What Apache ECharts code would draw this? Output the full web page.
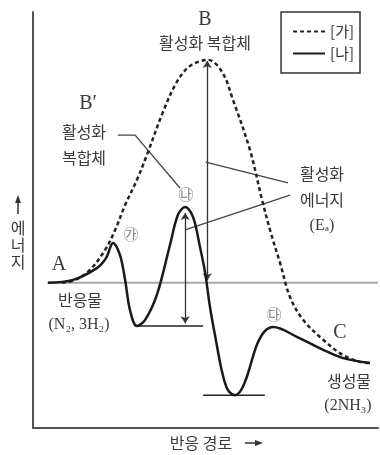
<!DOCTYPE html>
<html>
<head>
<meta charset="utf-8">
<title>반응 경로 에너지</title>
<script src="https://cdn.jsdelivr.net/npm/echarts@6/dist/echarts.min.js"></script>
<style>
  html, body { margin: 0; padding: 0; background: #fff; }
  #chart { width: 380px; height: 455px; }
</style>
</head>
<body>
<div id="chart"></div>
<script>
// reaction coordinate (0-100) vs energy (0-100)
var uncatX = [8.4, 12.2, 16.5, 20.9, 23.8, 26.7, 30.1, 33.0, 37.7, 41.7, 45.5, 50.7, 54.8, 58.0, 62.9, 66.4, 68.7, 71.6, 74.5, 78.3, 84.1, 89.9, 94.8, 97.7];
var uncatE = [34.9, 35.6, 38.0, 42.8, 47.6, 53.6, 59.6, 65.6, 76.0, 83.2, 87.0, 88.5, 85.6, 78.8, 66.8, 54.8, 47.6, 39.7, 31.5, 26.0, 21.2, 17.5, 15.9, 15.6];
var catX = [4.3, 11.6, 18.6, 21.2, 23.2, 25.2, 26.7, 28.1, 30.1, 32.5, 35.9, 39.7, 42.0, 44.1, 46.4, 48.4, 49.9, 51.3, 53.0, 54.8, 56.5, 58.6, 61.2, 64.9, 67.2, 69.6, 76.5, 84.1, 89.9, 97.7];
var catE = [34.9, 35.6, 38.5, 40.9, 44.5, 41.6, 35.6, 28.4, 24.5, 26.0, 32.0, 44.0, 51.2, 53.1, 50.7, 43.5, 37.3, 29.1, 21.2, 13.5, 9.1, 7.9, 10.6, 20.0, 23.3, 24.3, 21.9, 18.8, 16.8, 15.6];

// energy levels: reactant, intermediate 1, intermediate 2
var levelE = [34.9, 24.5, 7.9];
var levelFrom = [4.3, 30.1, 49.3];
var levelTo = [100, 49.3, 67.2];

// activation energy arrows (x, bottom, top)
var eaX = [44.1, 50.5];
var eaLow = [25.2, 35.5];
var eaHigh = [51.7, 88.2];

// leader lines
var leaders = [
  [[24.6, 70.4], [29.6, 70.4], [42.6, 57.7]],
  [[73.9, 58.9], [50.1, 63.9]],
  [[74.5, 56.0], [44.1, 47.6]]
];

function pairs(xs, ys) {
  return xs.map(function (x, i) { return [x, ys[i]]; });
}

var KR = '"Noto Sans CJK KR", sans-serif';
var SERIF = '"Liberation Serif", "DejaVu Serif", serif';

function txt(t, x, y, size, font, color) {
  return {
    type: 'text', x: x, y: y, silent: true,
    style: {
      text: t, fill: color || '#3a3a3a', font: (size || 16) + 'px ' + (font || KR),
      align: 'center', verticalAlign: 'middle'
    }
  };
}

var chart = echarts.init(document.getElementById('chart'));

var series = [];
levelE.forEach(function (e, i) {
  series.push({
    type: 'line', silent: true, symbol: 'none', z: 1,
    data: [[levelFrom[i], e], [levelTo[i], e]],
    lineStyle: i === 0 ? { color: '#a8a8a8', width: 2 } : { color: '#222', width: 1.5 }
  });
});
series.push({
  name: '[가]', type: 'line', smooth: 0.35, symbol: 'none', z: 3,
  data: pairs(uncatX, uncatE),
  lineStyle: { color: '#222', width: 2.5, type: [4, 3] },
  itemStyle: { color: '#222' }
});
series.push({
  name: '[나]', type: 'line', smooth: 0.35, symbol: 'none', z: 4,
  data: pairs(catX, catE),
  lineStyle: { color: '#1a1a1a', width: 2.5 },
  itemStyle: { color: '#1a1a1a' }
});
series.push({
  type: 'lines', coordinateSystem: 'cartesian2d', silent: true, z: 2,
  symbol: ['arrow', 'arrow'], symbolSize: 7,
  lineStyle: { color: '#333', width: 1.3, opacity: 1 },
  data: eaX.map(function (x, i) { return { coords: [[x, eaLow[i]], [x, eaHigh[i]]] }; })
});
series.push({
  type: 'lines', coordinateSystem: 'cartesian2d', polyline: true, silent: true, z: 2,
  symbol: 'none',
  lineStyle: { color: '#444', width: 1.3, opacity: 1 },
  data: leaders.map(function (c) { return { coords: c }; })
});

chart.setOption({
  animation: false,
  grid: { left: 33, right: 2, top: 12, bottom: 27, outerBoundsMode: 'none' },
  xAxis: {
    type: 'value', min: 0, max: 100,
    axisLine: { show: true, lineStyle: { color: '#555', width: 2 } },
    axisTick: { show: false }, axisLabel: { show: false }, splitLine: { show: false }
  },
  yAxis: {
    type: 'value', min: 0, max: 100,
    axisLine: { show: true, lineStyle: { color: '#555', width: 2 } },
    axisTick: { show: false }, axisLabel: { show: false }, splitLine: { show: false }
  },
  legend: {
    data: ['[가]', '[나]'], orient: 'vertical', right: 20, top: 12,
    itemWidth: 32, itemHeight: 14, itemGap: 7,
    padding: [12, 6, 12, 11],
    borderColor: '#333', borderWidth: 1.5,
    itemStyle: { opacity: 0 },
    textStyle: { fontSize: 15, fontFamily: KR, color: '#333' }
  },
  graphic: [
    txt('B', 205, 20, 20, SERIF),
    txt('활성화 복합체', 205, 43, 16),
    txt('B′', 88, 104, 20, SERIF),
    txt('활성화', 84, 132, 16),
    txt('복합체', 84, 158, 16),
    txt('A', 59, 265, 20, SERIF),
    txt('반응물', 80, 300, 16),
    txt('(N₂, 3H₂)', 79, 325, 16, SERIF),
    txt('C', 340, 333, 20, SERIF),
    txt('생성물', 349, 381, 16),
    txt('(2NH₃)', 348, 406, 16, SERIF),
    txt('활성화', 322, 174, 16),
    txt('에너지', 322, 200, 16),
    txt('(Eₐ)', 322, 226, 16, SERIF),
    txt('㉮', 131, 234, 15, KR, '#888'),
    txt('㉯', 186, 194, 15, KR, '#888'),
    txt('㉰', 274, 314, 15, KR, '#888'),
    txt('반응 경로', 201, 443, 16),
    {
      type: 'text', x: 18, y: 245, silent: true,
      style: { text: '에\n너\n지', fill: '#3a3a3a', font: '16px ' + KR, align: 'center', verticalAlign: 'middle', lineHeight: 17 }
    },
    { type: 'line', silent: true, shape: { x1: 18, y1: 214, x2: 18, y2: 200 }, style: { stroke: '#333', lineWidth: 1.5 } },
    { type: 'polygon', silent: true, shape: { points: [[18, 195], [15, 203], [21, 203]] }, style: { fill: '#333' } },
    { type: 'line', silent: true, shape: { x1: 245, y1: 443, x2: 257, y2: 443 }, style: { stroke: '#333', lineWidth: 1.5 } },
    { type: 'polygon', silent: true, shape: { points: [[263, 443], [255, 440], [255, 446]] }, style: { fill: '#333' } }
  ],
  series: series
});
</script>
</body>
</html>
